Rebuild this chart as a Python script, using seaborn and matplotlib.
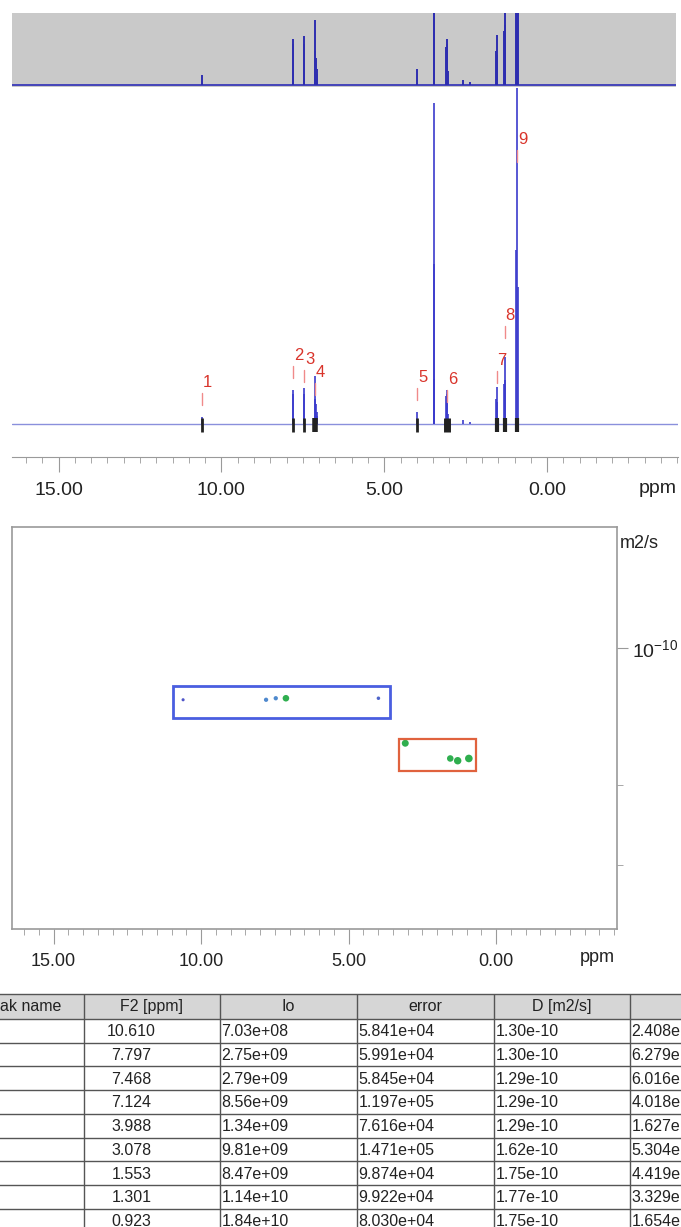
import numpy as np
import pandas as pd
import seaborn as sns
import matplotlib.pyplot as plt
from matplotlib.patches import Rectangle
from matplotlib.ticker import MultipleLocator, FixedLocator, NullFormatter, FormatStrFormatter

W, H = 681, 1227

# ---- fit table (DOSY peaks) ----
peak_names = ["1", "2", "3", "4", "5", "6", "7", "8", "9"]
f2_ppm = [10.610, 7.797, 7.468, 7.124, 3.988, 3.078, 1.553, 1.301, 0.923]
io = [7.03e8, 2.75e9, 2.79e9, 8.56e9, 1.34e9, 9.81e9, 8.47e9, 1.14e10, 1.84e10]
err = [5.841e4, 5.991e4, 5.845e4, 1.197e5, 7.616e4, 1.471e5, 9.874e4, 9.922e4, 8.030e4]
d_m2s = [1.30e-10, 1.30e-10, 1.29e-10, 1.29e-10, 1.29e-10, 1.62e-10, 1.75e-10, 1.77e-10, 1.75e-10]
# last column is cut by the page edge, only the visible part is kept
d_err = ["2.408e", "6.279e", "6.016e", "4.018e", "1.627e",
         "5.304e", "4.419e", "3.329e", "1.654e"]
headers = ["ak name", "F2 [ppm]", "Io", "error", "D [m2/s]"]

# ---- 1D spectrum as line list (ppm, intensity) ----
line_ppm = [10.610, 7.805, 7.790, 7.475, 7.460, 7.140, 7.124, 7.100, 7.080, 7.060,
            3.988, 3.475, 3.470, 3.465, 3.100, 3.078, 3.060, 3.050, 2.580, 2.360,
            1.570, 1.553, 1.535, 1.310, 1.301, 1.290, 0.941, 0.923, 0.905]
line_int = [7, 30, 34, 30, 36, 25, 48, 20, 12, 8,
            12, 45, 321, 160, 28, 34, 30, 10, 4, 2,
            25, 37, 22, 40, 67, 44, 174, 1000, 137]

# two diffusion groups: ppm range, D range
box_ppm = [(3.60, 10.95), (0.68, 3.29)]
box_d = [(1.212e-10, 1.425e-10), (1.585e-10, 1.864e-10)]

sns.set_style("white")
plt.rcParams["font.family"] = ["Liberation Sans", "DejaVu Sans"]
plt.rcParams["mathtext.default"] = "regular"

fig = plt.figure(figsize=(W / 100, H / 100), dpi=100)


def px_axes(x0, y0, x1, y1):
    return fig.add_axes([x0 / W, 1 - y1 / H, (x1 - x0) / W, (y1 - y0) / H])


spec = pd.DataFrame({"ppm": line_ppm, "int": line_int})
XL = (16.43, -4.02)

# projection strip on top
ax0 = px_axes(12, 13, 676, 87)
ax0.set_facecolor("#c9c9c9")
ax0.axhline(0, color="#3a3ab8", lw=1.3)
ax0.vlines(spec["ppm"], 0, spec["int"], color="#2e2eb0", lw=1.4)
ax0.set_xlim(XL[0], XL[0] - 664 / 32.57)
ax0.set_ylim(-1.5, 53)
ax0.set_xticks([])
ax0.set_yticks([])
for s in ax0.spines.values():
    s.set_visible(False)

# main 1D spectrum
ax1 = px_axes(12, 88, 678, 457)
ax1.axhline(0, color="#8a90dc", lw=1)
ax1.vlines(spec["ppm"], 0, spec["int"], color="#3b3bcc", lw=1.2)
# integration marks
mark_w = [2, 2, 2, 4, 2, 5, 3, 3, 3]
ax1.vlines(f2_ppm, -8, 6, color="#222222", lw=mark_w)
# peak labels
label_y = [19, 46, 42, 29, 24, 22, 41, 86, 262]
for name, x, y in zip(peak_names, f2_ppm, label_y):
    ax1.plot([x, x], [y, y + 12], color="#f08a8a", lw=1)
    ax1.text(x - 0.03, y + 15, name, color="#d9342b", fontsize=12, ha="left", va="bottom")
ax1.set_xlim(*XL)
ax1.set_ylim(-33, 336)
ax1.set_yticks([])
for k in ["top", "left", "right"]:
    ax1.spines[k].set_visible(False)
ax1.spines["bottom"].set_color("#9a9a9a")
ax1.xaxis.set_major_locator(MultipleLocator(5))
ax1.xaxis.set_minor_locator(MultipleLocator(0.5))
ax1.xaxis.set_major_formatter(FormatStrFormatter("%.2f"))
ax1.tick_params(axis="x", which="major", length=11, color="#9a9a9a", labelsize=14,
                pad=7, labelcolor="#222222")
ax1.tick_params(axis="x", which="minor", length=4, color="#9a9a9a")
ax1.tick_params(axis="x", which="both", bottom=True, direction="out")
fig.text(677 / W, 1 - 488 / H, "ppm", ha="right", va="center", fontsize=14, color="#222222")

# DOSY map
ax2 = px_axes(12, 527, 617, 929)
ax2.set_yscale("log")
dosy = pd.DataFrame({"F2": f2_ppm, "D": d_m2s, "Io": io})
cmap = sns.blend_palette(["#4f55c8", "#4f9bd0", "#34b35a", "#2fae4e"], as_cmap=True)
sns.scatterplot(data=dosy, x="F2", y="D", hue="Io", size="Io", sizes=(5, 30),
                hue_norm=(7e8, 9e9), size_norm=(7e8, 1.2e10), palette=cmap,
                edgecolor="none", legend=False, ax=ax2)
for (p0, p1), (d0, d1), c, lw in zip(box_ppm, box_d, ["#4a5ee0", "#e0623e"], [2, 1.6]):
    ax2.add_patch(Rectangle((p0, d0), p1 - p0, d1 - d0, fill=False, ec=c, lw=lw))
ax2.set_xlim(16.41, -4.10)
ax2.set_ylim(4.15e-10, 5.42e-11)
ax2.set_xlabel("")
ax2.set_ylabel("")
for s in ax2.spines.values():
    s.set_color("#9a9a9a")
    s.set_linewidth(1.2)
ax2.xaxis.set_major_locator(MultipleLocator(5))
ax2.xaxis.set_minor_locator(MultipleLocator(0.5))
ax2.xaxis.set_major_formatter(FormatStrFormatter("%.2f"))
ax2.tick_params(axis="x", which="major", length=11, color="#9a9a9a", labelsize=13,
                pad=6, labelcolor="#222222", bottom=True)
ax2.tick_params(axis="x", which="minor", length=4, color="#9a9a9a", bottom=True)
ax2.yaxis.tick_right()
ax2.yaxis.set_major_locator(FixedLocator([1e-10]))
ax2.yaxis.set_minor_locator(FixedLocator([2e-10, 3e-10]))
ax2.yaxis.set_minor_formatter(NullFormatter())
ax2.tick_params(axis="y", which="major", length=8, color="#9a9a9a", labelsize=14,
                pad=3, labelcolor="#222222", right=True, left=False)
ax2.tick_params(axis="y", which="minor", length=4, color="#9a9a9a", right=True, left=False)
fig.text(620 / W, 1 - 543 / H, "m2/s", ha="left", va="center", fontsize=13, color="#222222")
fig.text(615 / W, 1 - 958 / H, "ppm", ha="right", va="center", fontsize=13, color="#222222")

# result table
ax3 = fig.add_axes([0, 0, 1, (H - 990) / H])
ax3.set_xlim(0, W)
ax3.set_ylim(H, 990)
ax3.axis("off")
top, head_h, row_h = 994, 25, 23.7
cols = [-53, 83.5, 219.5, 356.5, 493.5, 630, 767]
ax3.add_patch(Rectangle((-60, top), 900, head_h, color="#d6d6d6", lw=0))
rows_y = [top] + [top + head_h + i * row_h for i in range(len(f2_ppm) + 1)]
ax3.hlines(rows_y, -60, 800, color="#555555", lw=1)
ax3.vlines(cols[1:-1], top, H + 10, color="#555555", lw=1)
for i, h in enumerate(headers):
    if i == 0:
        ax3.text(0, top + head_h / 2, h, ha="left", va="center", fontsize=11.5, color="#222222")
    else:
        xc = (cols[i] + cols[i + 1]) / 2
        ax3.text(xc, top + head_h / 2, h, ha="center", va="center", fontsize=11.5, color="#222222")
for r in range(len(f2_ppm)):
    yc = top + head_h + r * row_h + row_h / 2 + 1
    ax3.text(131.5, yc, f"{f2_ppm[r]:.3f}", ha="center", va="center", fontsize=11.5, color="#222222")
    ax3.text(cols[2] + 2, yc, f"{io[r]:.2e}", ha="left", va="center", fontsize=11.5, color="#222222")
    ax3.text(cols[3] + 2, yc, f"{err[r]:.3e}", ha="left", va="center", fontsize=11.5, color="#222222")
    ax3.text(cols[4] + 2, yc, f"{d_m2s[r]:.2e}", ha="left", va="center", fontsize=11.5, color="#222222")
    ax3.text(cols[5] + 1.5, yc, d_err[r], ha="left", va="center", fontsize=11.5, color="#222222")

fig.savefig("out.png", dpi=100)
